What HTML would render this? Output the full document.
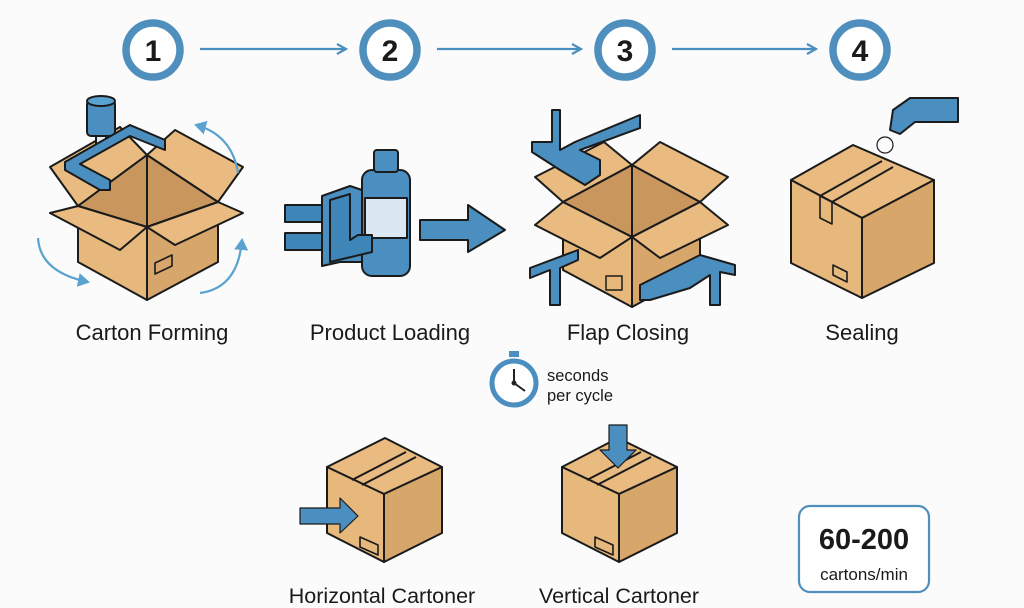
<!DOCTYPE html>
<html><head><meta charset="utf-8"><style>
html,body{margin:0;padding:0;background:#fbfbfb}
svg{display:block}
text{font-family:"Liberation Sans",sans-serif;fill:#1a1a1a}
</style></head><body>
<svg width="1024" height="608" viewBox="0 0 1024 608" xmlns="http://www.w3.org/2000/svg">
<defs>
<marker id="ah" markerWidth="12" markerHeight="12" refX="10" refY="6" orient="auto" markerUnits="userSpaceOnUse">
<path d="M1,1 L10,6 L1,11" fill="none" stroke="#4a8fc0" stroke-width="2.2"/></marker>
<marker id="ah2" markerWidth="14" markerHeight="14" refX="10" refY="7" orient="auto" markerUnits="userSpaceOnUse">
<path d="M0,0 L12,7 L0,14 Z" fill="#5aa2cf"/></marker>
</defs>
<rect width="1024" height="608" fill="#fbfbfb"/>
<g fill="#fff" stroke="#4e8fbd" stroke-width="7.5">
<circle cx="153" cy="50" r="27"/><circle cx="390" cy="50" r="27"/><circle cx="625" cy="50" r="27"/><circle cx="860" cy="50" r="27"/>
</g>
<g font-size="30" font-weight="bold" text-anchor="middle">
<text x="153" y="61">1</text><text x="390" y="61">2</text><text x="625" y="61">3</text><text x="860" y="61">4</text>
</g>
<g stroke="#4a8fc0" stroke-width="2.2" marker-end="url(#ah)">
<line x1="200" y1="49" x2="346" y2="49"/><line x1="437" y1="49" x2="581" y2="49"/><line x1="672" y1="49" x2="816" y2="49"/>
</g>

<g stroke="#1b1b1b" stroke-width="2" stroke-linejoin="round">
<polygon points="78,206 50,167 120,127 147,155" fill="#e9bb80"/>
<polygon points="147,155 175,130 243,167 218,202" fill="#e9bb80"/>
<polygon points="147,155 78,206 147,227 218,202" fill="#c9975e"/>
<line x1="147" y1="155" x2="147" y2="227"/>
<polygon points="78,206 147,227 147,300 78,262" fill="#e6b87c"/>
<polygon points="147,227 218,202 218,262 147,300" fill="#d7a66a"/>
<polygon points="78,206 147,227 120,250 50,213" fill="#e9bb80"/>
<polygon points="147,227 218,202 243,213 175,245" fill="#e9bb80"/>
<polygon points="155,263 172,255 172,266 155,274" fill="none" stroke-width="1.6"/>
<rect x="87" y="100" width="28" height="36" rx="4" fill="#4a8fc0"/>
<ellipse cx="101" cy="101" rx="14" ry="5" fill="#5aa2cf"/>
<rect x="96" y="136" width="10" height="8" fill="#dfe9f0"/>
<polygon points="65,162 130,125 165,140 165,150 130,136 80,164 110,180 110,190 100,190 65,170" fill="#4a8fc0"/>
<rect x="285" y="205" width="40" height="17" fill="#3f86b8"/>
<rect x="285" y="233" width="40" height="17" fill="#3f86b8"/>
<rect x="362" y="170" width="48" height="106" rx="10" fill="#4a8fc0"/>
<rect x="374" y="150" width="24" height="22" rx="3" fill="#4a8fc0"/>
<rect x="365" y="198" width="42" height="40" fill="#dbe8f2"/>
<polygon points="322,196 350,186 362,190 362,262 340,262 322,266" fill="#4a8fc0"/>
<polygon points="330,200 350,194 350,240 358,235 372,235 372,252 330,262" fill="#3f86b8"/>
<polygon points="420,220 468,220 468,205 505,230 468,252 468,240 420,240" fill="#4a8fc0"/>
<polygon points="563,202 535,177 604,142 632,165" fill="#e9bb80"/>
<polygon points="632,165 660,142 728,177 700,202" fill="#e9bb80"/>
<polygon points="632,165 563,202 632,237 700,202" fill="#c9975e"/>
<line x1="632" y1="165" x2="632" y2="237"/>
<polygon points="563,202 632,237 632,307 563,270" fill="#e6b87c"/>
<polygon points="632,237 700,202 700,270 632,307" fill="#d7a66a"/>
<polygon points="563,202 632,237 600,258 535,225" fill="#e9bb80"/>
<polygon points="632,237 700,202 728,225 660,258" fill="#e9bb80"/>
<rect x="606" y="276" width="16" height="14" fill="none" stroke-width="1.5"/>
<g fill="#4a8fc0">
<polygon points="532,142 552,142 552,110 560,110 560,150 575,142 640,115 640,128 580,150 600,160 600,175 585,185 560,170 532,152"/>
<polygon points="530,268 578,250 578,260 560,268 560,305 550,305 550,270 530,278"/>
<polygon points="640,285 680,265 700,255 735,265 735,275 720,272 720,305 710,305 710,275 690,288 650,300 640,300"/>
</g>
<polygon points="853,145 791,180 862,218 934,180" fill="#e9bb80"/>
<polygon points="791,180 862,218 862,298 791,263" fill="#e6b87c"/>
<polygon points="862,218 934,180 934,263 862,298" fill="#d7a66a"/>
<polyline points="820,196 882,161" fill="none"/><polyline points="832,202 893,167" fill="none"/>
<polygon points="820,196 832,202 832,224 820,218" fill="none" stroke-width="1.6"/>
<polygon points="833,265 847,272 847,282 833,275" fill="none" stroke-width="1.6"/>
<polygon points="893,110 910,98 958,98 958,122 915,122 900,134 890,130" fill="#4a8fc0"/>
<circle cx="885" cy="145" r="8" fill="none" stroke-width="1.2"/>
<polygon points="385,438 327,467 384,494 442,467" fill="#e9bb80"/>
<polygon points="327,467 384,494 384,562 327,533" fill="#e6b87c"/>
<polygon points="384,494 442,467 442,533 384,562" fill="#d7a66a"/>
<line x1="352" y1="480" x2="406" y2="452"/><line x1="362" y1="485" x2="416" y2="457"/>
<polygon points="360,537 378,545 378,555 360,547" fill="none" stroke-width="1.6"/>
<polygon points="300,508 340,508 340,498 358,516 340,533 340,524 300,524" fill="#4a8fc0" stroke-width="1.2"/>
<polygon points="618,438 562,467 619,494 677,467" fill="#e9bb80"/>
<polygon points="562,467 619,494 619,562 562,533" fill="#e6b87c"/>
<polygon points="619,494 677,467 677,533 619,562" fill="#d7a66a"/>
<line x1="587" y1="480" x2="641" y2="452"/><line x1="597" y1="485" x2="651" y2="457"/>
<polygon points="595,537 613,545 613,555 595,547" fill="none" stroke-width="1.6"/>
<polygon points="609,425 627,425 627,450 636,450 618,468 600,450 609,450" fill="#4a8fc0" stroke-width="1.2"/>
</g>
<g fill="none" stroke="#5aa2cf" stroke-width="2.2" marker-end="url(#ah2)">
<path d="M238,173 Q232,135 196,125"/>
<path d="M38,238 Q40,272 88,282"/>
<path d="M200,293 Q238,288 242,240"/>
</g>
<g font-size="22" text-anchor="middle">
<text x="152" y="340">Carton Forming</text><text x="390" y="340">Product Loading</text>
<text x="628" y="340">Flap Closing</text><text x="862" y="340">Sealing</text>
</g>
<g font-size="21.5" text-anchor="middle">
<text x="382" y="603">Horizontal Cartoner</text><text x="619" y="603">Vertical Cartoner</text>
</g>
<rect x="509" y="351" width="10" height="6" fill="#4a8fc0"/>
<circle cx="514" cy="383" r="22" fill="#fff" stroke="#4a8fc0" stroke-width="5"/>
<path d="M514,369 V383 L525,391" fill="none" stroke="#222" stroke-width="2"/>
<circle cx="514" cy="383" r="2.5" fill="#222"/>
<g font-size="16.5"><text x="547" y="381">seconds</text><text x="547" y="401">per cycle</text></g>
<rect x="799" y="506" width="130" height="86" rx="11" fill="#fff" stroke="#4e8fbd" stroke-width="2.2"/>
<text x="864" y="549" font-size="29" font-weight="bold" text-anchor="middle">60-200</text>
<text x="864" y="580" font-size="17" text-anchor="middle">cartons/min</text>
</svg>
</body></html>
